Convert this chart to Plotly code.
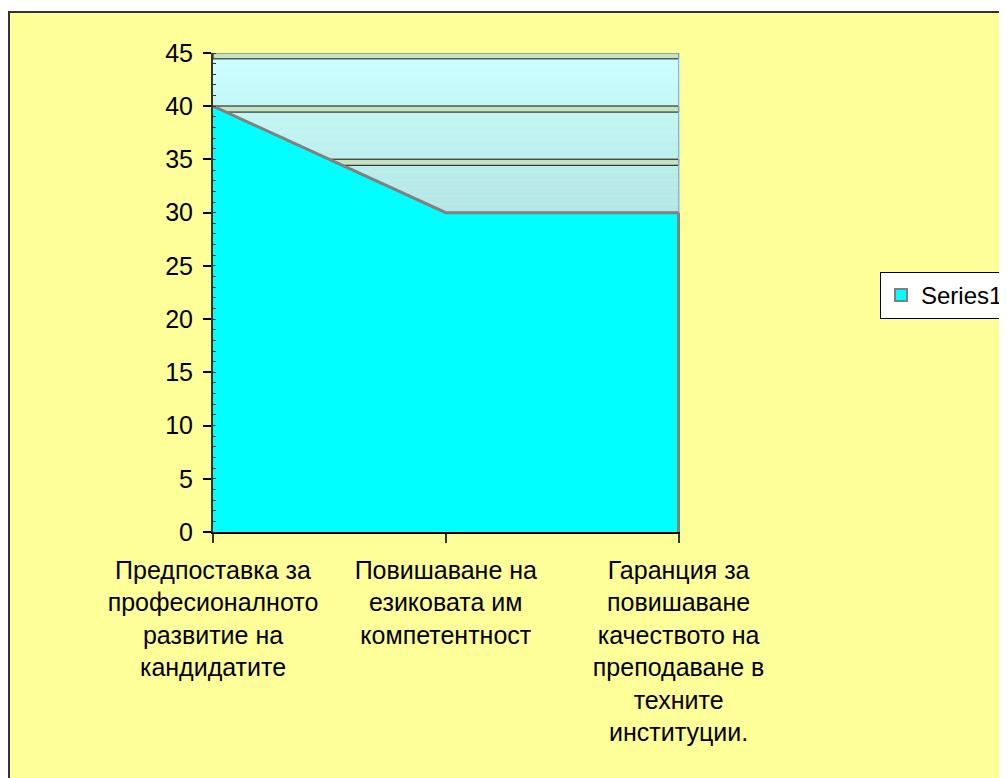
import plotly.graph_objects as go

# ---- data ----
categories = [
    "Предпоставка за<br>професионалното<br>развитие на<br>кандидатите",
    "Повишаване на<br>езиковата им<br>компетентност",
    "Гаранция за<br>повишаване<br>качеството на<br>преподаване в<br>техните<br>институции.",
]
values = [40, 30, 30]
series_name = "Series1"
y_ticks = [0, 5, 10, 15, 20, 25, 30, 35, 40, 45]

# ---- layout geometry (reference pixels; page body has an 8px margin) ----
OFF = 8
W, H = 1007 - OFF, 778 - OFF
ML, MT = 213 - OFF, 53 - OFF
PLOT_R, PLOT_B = 680 - OFF, 532 - OFF
MR, MB = W - PLOT_R, H - PLOT_B
PW, PH = W - ML - MR, H - MT - MB

def px2x(px):
    return (px - OFF - ML) / PW

def px2y(py):
    return (PLOT_B - (py - OFF)) / PH

FONT = "Liberation Sans, Arial, sans-serif"
YMAX = 45
last = len(categories) - 1

shapes = []
# outer yellow chart area with dark frame
shapes.append(dict(type="rect", xref="paper", yref="paper",
                   x0=px2x(9), x1=px2x(1030), y0=px2y(800), y1=px2y(12),
                   fillcolor="#FFFF99", line=dict(color="#333333", width=2), layer="below"))
# gradient plot background (wall)
n = 60
top = (0xCC, 0xFF, 0xFF)
bot = (0x80, 0xB3, 0xB3)
for i in range(n):
    f = (i + 0.5) / n
    c = tuple(round(top[k] + (bot[k] - top[k]) * f) for k in range(3))
    shapes.append(dict(type="rect", xref="paper", yref="paper",
                       x0=0, x1=1, y0=1 - (i + 1) / n, y1=1 - i / n,
                       fillcolor="rgb(%d,%d,%d)" % c, line=dict(width=0), layer="below"))
# 3D-style gridline bands
for v in y_ticks[1:]:
    shapes.append(dict(type="rect", xref="x", yref="y",
                       x0=0, x1=last, y0=v - 0.55, y1=v + 0.02,
                       fillcolor="#C6E2C0", line=dict(color="#111111", width=1), layer="below"))
# right edge of area outline
shapes.append(dict(type="line", xref="x", yref="y",
                   x0=last, x1=last, y0=0, y1=values[-1],
                   line=dict(color="#808080", width=3), layer="above"))
# thin wall edge on the right above the area
shapes.append(dict(type="line", xref="x", yref="y",
                   x0=last, x1=last, y0=values[-1], y1=YMAX,
                   line=dict(color="#A0A0A0", width=1), layer="above"))

fig = go.Figure()
fig.add_trace(go.Scatter(
    x=categories, y=values, mode="lines", fill="tozeroy",
    fillcolor="#00FFFF", line=dict(color="#808080", width=3),
    showlegend=False, hoverinfo="skip"))
fig.add_trace(go.Scatter(
    x=[None], y=[None], mode="markers", name=series_name,
    marker=dict(symbol="square", size=13, color="#00FFFF",
                line=dict(color="#808080", width=2))))

fig.update_layout(
    width=W, height=H,
    margin=dict(l=ML, r=MR, t=MT, b=MB, autoexpand=False),
    paper_bgcolor="white",
    plot_bgcolor="rgba(0,0,0,0)",
    font=dict(family=FONT, size=25, color="black"),
    shapes=shapes,
    showlegend=True,
    legend=dict(x=px2x(880), y=px2y(272), xanchor="left", yanchor="top",
                bgcolor="white", bordercolor="black", borderwidth=1,
                font=dict(size=24, family=FONT), itemsizing="constant"),
    xaxis=dict(
        type="category", range=[0, last + 0.006],
        showgrid=False, zeroline=False,
        showline=True, linecolor="black", linewidth=1.5,
        ticks="outside", ticklen=9, tickcolor="#333333", tickwidth=1.5,
        tickfont=dict(size=25, family=FONT), ticklabelstandoff=6,
    ),
    yaxis=dict(
        range=[0, YMAX], tickvals=y_ticks,
        showgrid=False, zeroline=False,
        showline=True, linecolor="#333333", linewidth=2,
        ticks="outside", ticklen=8, tickcolor="black", tickwidth=1.5,
        tickfont=dict(size=25, family=FONT), ticklabelstandoff=5,
        minor=dict(dtick=1, ticks="inside", ticklen=3, tickcolor="#333333", tickwidth=1),
    ),
)

fig.write_html("out.html")
